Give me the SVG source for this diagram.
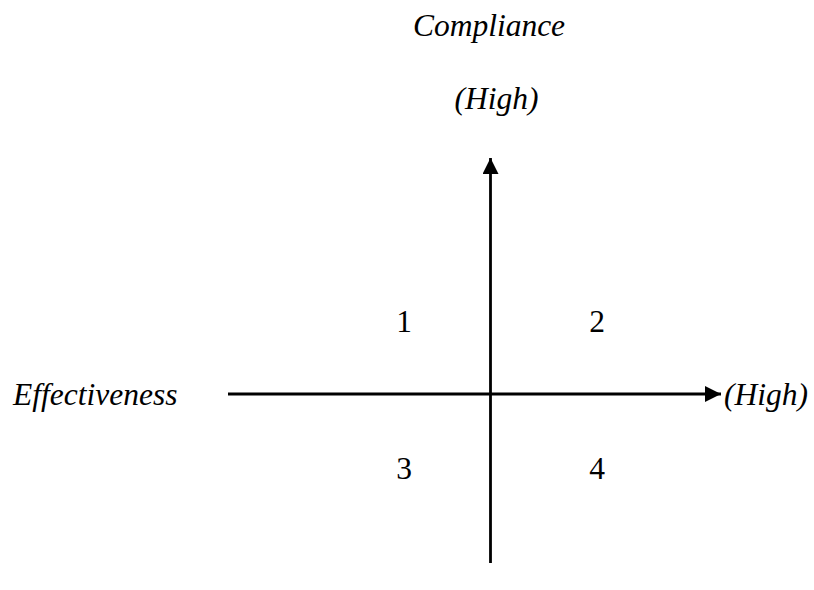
<svg xmlns="http://www.w3.org/2000/svg" width="814" height="590" viewBox="0 0 814 590">
  <style>
    .lbl { font-family: "Liberation Serif", "Times New Roman", serif; font-size: 31.5px; fill: #000; }
    .it { font-style: italic; }
    .axis { stroke: #000; stroke-width: 2.8; fill: none; }
  </style>
  <defs>
    <marker id="arrow" markerWidth="16" markerHeight="16" refX="16" refY="8" orient="auto" markerUnits="userSpaceOnUse">
      <path d="M0,0 L16,8 L0,16 Z" fill="#000"/>
    </marker>
  </defs>

  <g id="connectors">
    <line class="axis" x1="490.5" y1="563" x2="490.5" y2="158" marker-end="url(#arrow)"/>
    <line class="axis" x1="228" y1="394" x2="721" y2="394" marker-end="url(#arrow)"/>
  </g>

  <g id="y-axis-label">
    <text class="lbl it" x="489" y="36" text-anchor="middle">Compliance</text>
    <text class="lbl it" x="496.5" y="109" text-anchor="middle">(High)</text>
  </g>
  <g id="x-axis-label">
    <text class="lbl it" x="13" y="405">Effectiveness</text>
    <text class="lbl it" x="724" y="405">(High)</text>
  </g>

  <g id="quadrant-1"><text class="lbl" x="404" y="332" text-anchor="middle">1</text></g>
  <g id="quadrant-2"><text class="lbl" x="597" y="332" text-anchor="middle">2</text></g>
  <g id="quadrant-3"><text class="lbl" x="404" y="479" text-anchor="middle">3</text></g>
  <g id="quadrant-4"><text class="lbl" x="597" y="479" text-anchor="middle">4</text></g>
</svg>
